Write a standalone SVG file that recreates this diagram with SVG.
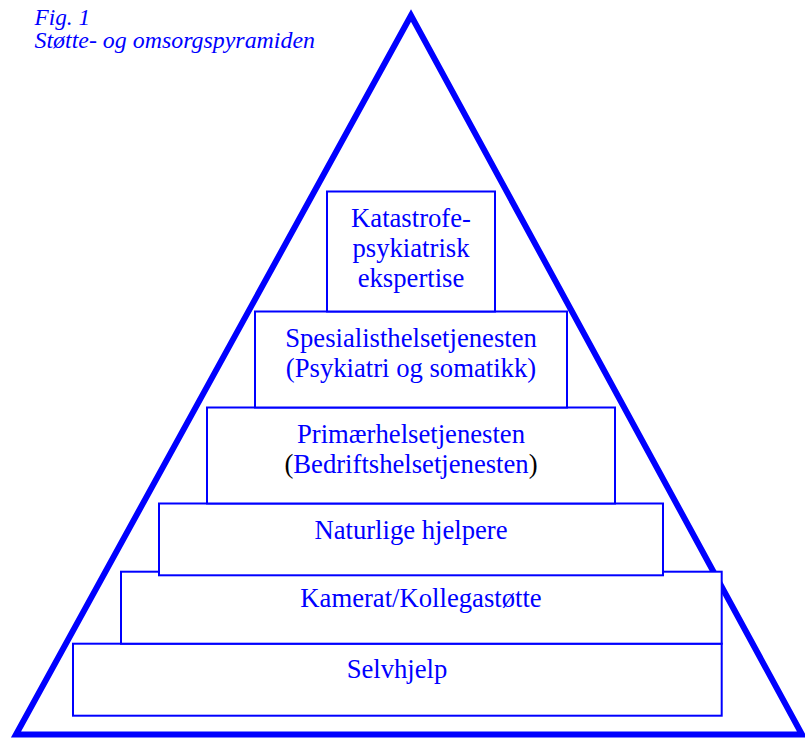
<svg xmlns="http://www.w3.org/2000/svg" width="805" height="738" viewBox="0 0 805 738">
<style>
.box{fill:#ffffff;stroke:#0000ff;stroke-width:2}
.t{font-family:"Liberation Serif","Times New Roman",serif;font-size:26.67px;fill:#0000ff;text-anchor:middle}
.title{font-family:"Liberation Serif","Times New Roman",serif;font-size:22.5px;font-style:italic;fill:#0000ff}
.blk{fill:#000000}
</style>
<rect width="805" height="738" fill="#ffffff"/>
<g id="title">
<text class="title" x="34.5" y="24.5" textLength="55.5" lengthAdjust="spacingAndGlyphs">Fig. 1</text>
<text class="title" x="34.5" y="47.5" textLength="280.5" lengthAdjust="spacingAndGlyphs">Støtte- og omsorgspyramiden</text>
</g>
<g id="pyramid">
<polygon points="411,15.5 16,734.5 802,734.5" fill="none" stroke="#0000ff" stroke-width="6" stroke-linejoin="miter" stroke-miterlimit="10"/>
</g>
<g id="selvhjelp">
<rect class="box" x="73" y="643.7" width="648.7" height="72"/>
<text class="t" x="397" y="678">Selvhjelp</text>
</g>
<g id="kamerat">
<rect class="box" x="121" y="571.7" width="600.7" height="72"/>
<text class="t" x="421" y="606.7">Kamerat/Kollegastøtte</text>
</g>
<g id="naturlige">
<rect class="box" x="159" y="503.5" width="504" height="71.8"/>
<text class="t" x="411" y="539">Naturlige hjelpere</text>
</g>
<g id="primaer">
<rect class="box" x="207" y="407.5" width="408" height="96"/>
<text class="t" x="411" y="443.3">Primærhelsetjenesten</text>
<text class="t" x="411" y="473.3"><tspan class="blk">(</tspan>Bedriftshelsetjenesten<tspan class="blk">)</tspan></text>
</g>
<g id="spesialist">
<rect class="box" x="255" y="311.5" width="312" height="96"/>
<text class="t" x="411" y="347.3">Spesialisthelsetjenesten</text>
<text class="t" x="411" y="377.3">(Psykiatri og somatikk)</text>
</g>
<g id="katastrofe">
<rect class="box" x="327" y="191.5" width="168" height="120"/>
<text class="t" x="411" y="226.7">Katastrofe-</text>
<text class="t" x="411" y="257.3">psykiatrisk</text>
<text class="t" x="411" y="287.3">ekspertise</text>
</g>
<g id="connectors"></g>
</svg>
